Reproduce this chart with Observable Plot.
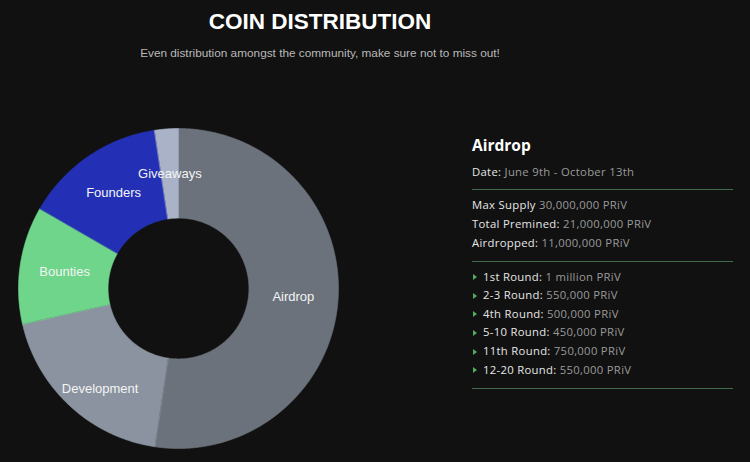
<!DOCTYPE html>
<html>
<head>
<meta charset="utf-8">
<script src="https://cdn.jsdelivr.net/npm/d3@7"></script>
<script src="https://cdn.jsdelivr.net/npm/@observablehq/plot@0.6"></script>
<style>
  html, body { margin:0; padding:0; background:#111111; width:750px; height:462px; overflow:hidden; }
  #title { position:absolute; left:0; width:640px; top:8px; text-align:center; color:#ffffff;
           font-family:"Liberation Sans", Arial, sans-serif; font-weight:bold; font-size:22.5px; line-height:28px; }
  #subtitle { position:absolute; left:0; width:640px; top:43.5px; text-align:center; color:#b9b9b9;
           font-family:"Liberation Sans", Arial, sans-serif; font-size:11.8px; line-height:18px; }
  #chart { position:absolute; left:8px; top:118px; }
  #panel { position:absolute; left:472px; top:0; width:261px; font-family:"Open Sans", sans-serif; color:#e6e6e6; }
  .sec { position:absolute; left:0; width:261px; }
  .h { font-weight:bold; font-size:15.5px; line-height:20px; color:#ffffff; }
  .ln { font-size:11.3px; line-height:18.6px; white-space:nowrap; letter-spacing:0.3px; }
  .ln .v { color:#9a9a9a; }
  .li { padding-left:11px; position:relative; }
  .li::before { content:""; position:absolute; left:1px; top:6.5px; border-left:4px solid #4fae5f;
                border-top:3px solid transparent; border-bottom:3px solid transparent; }
  .rule { position:absolute; left:0; width:261px; height:0; border-top:1.3px solid #3f6a4c; }
</style>
</head>
<body>
<div id="title"></div>
<div id="subtitle"></div>
<div id="chart"></div>
<div id="panel"></div>
<script>
// ---- data ----
const titleText = "COIN DISTRIBUTION";
const subtitleText = "Even distribution amongst the community, make sure not to miss out!";
const categories = ["Airdrop", "Development", "Bounties", "Founders", "Giveaways"];
const values = [11, 4, 2.5, 3, 0.5]; // million PRiV
const colors = ["#6b727b", "#8a939f", "#6fd58b", "#2330b5", "#a9b2c7"];

const panelHeading = "Airdrop";
const dateLine = ["Date:", "June 9th - October 13th"];
const supplyLabels = ["Max Supply", "Total Premined:", "Airdropped:"];
const supplyValues = ["30,000,000 PRiV", "21,000,000 PRiV", "11,000,000 PRiV"];
const roundLabels = ["1st Round:", "2-3 Round:", "4th Round:", "5-10 Round:", "11th Round:", "12-20 Round:"];
const roundValues = ["1 million PRiV", "550,000 PRiV", "500,000 PRiV", "450,000 PRiV", "750,000 PRiV", "550,000 PRiV"];

// ---- header ----
document.getElementById("title").textContent = titleText;
document.getElementById("subtitle").textContent = subtitleText;

// ---- donut via Plot ----
const inner = 0.44, outer = 1.0;
const arcs = d3.pie().sort(null)(values);
const pts = [];
const labels = [];
arcs.forEach((a, i) => {
  const n = Math.max(8, Math.ceil((a.endAngle - a.startAngle) * 60));
  for (let k = 0; k <= n; k++) {
    const t = a.startAngle + (a.endAngle - a.startAngle) * k / n;
    pts.push({name: categories[i], x: outer * Math.sin(t), y: outer * Math.cos(t)});
  }
  for (let k = n; k >= 0; k--) {
    const t = a.startAngle + (a.endAngle - a.startAngle) * k / n;
    pts.push({name: categories[i], x: inner * Math.sin(t), y: inner * Math.cos(t)});
  }
  const m = (a.startAngle + a.endAngle) / 2, rm = (inner + outer) / 2;
  labels.push({name: categories[i], x: rm * Math.sin(m), y: rm * Math.cos(m)});
});
const d = 170 / 160;
const plot = Plot.plot({
  width: 340, height: 340, margin: 0,
  style: {background: "transparent"},
  x: {domain: [-d, d], axis: null},
  y: {domain: [-d, d], axis: null},
  color: {domain: categories, range: colors},
  marks: [
    Plot.line(pts, {x: "x", y: "y", z: "name", fill: "name", stroke: "name", strokeWidth: 0.6, curve: "linear-closed"}),
    Plot.text(labels, {filter: l => l.name !== "Development", x: "x", y: "y", text: "name", fill: "#f4f4f4",
      fontSize: 13, fontFamily: "Liberation Sans, Arial, sans-serif"}),
    Plot.text(labels, {filter: l => l.name === "Development", x: "x", y: "y", dy: 16, text: "name", fill: "#f4f4f4",
      fontSize: 13, fontFamily: "Liberation Sans, Arial, sans-serif"})
  ]
});
document.getElementById("chart").appendChild(plot);

// ---- side panel ----
const panel = d3.select("#panel");
panel.append("div").attr("class", "sec h").style("top", "135px").text(panelHeading);
const dl = panel.append("div").attr("class", "sec ln").style("top", "162.7px");
dl.append("span").text(dateLine[0] + " ");
dl.append("span").attr("class", "v").text(dateLine[1]);
panel.append("div").attr("class", "rule").style("top", "189px");
const s1 = panel.append("div").attr("class", "sec").style("top", "196.4px");
supplyLabels.forEach((l, i) => {
  const r = s1.append("div").attr("class", "ln");
  r.append("span").text(l + " ");
  r.append("span").attr("class", "v").text(supplyValues[i]);
});
panel.append("div").attr("class", "rule").style("top", "260.5px");
const s2 = panel.append("div").attr("class", "sec").style("top", "267.7px");
roundLabels.forEach((l, i) => {
  const r = s2.append("div").attr("class", "ln li");
  r.append("span").text(l + " ");
  r.append("span").attr("class", "v").text(roundValues[i]);
});
panel.append("div").attr("class", "rule").style("top", "387.5px");
</script>
</body>
</html>
